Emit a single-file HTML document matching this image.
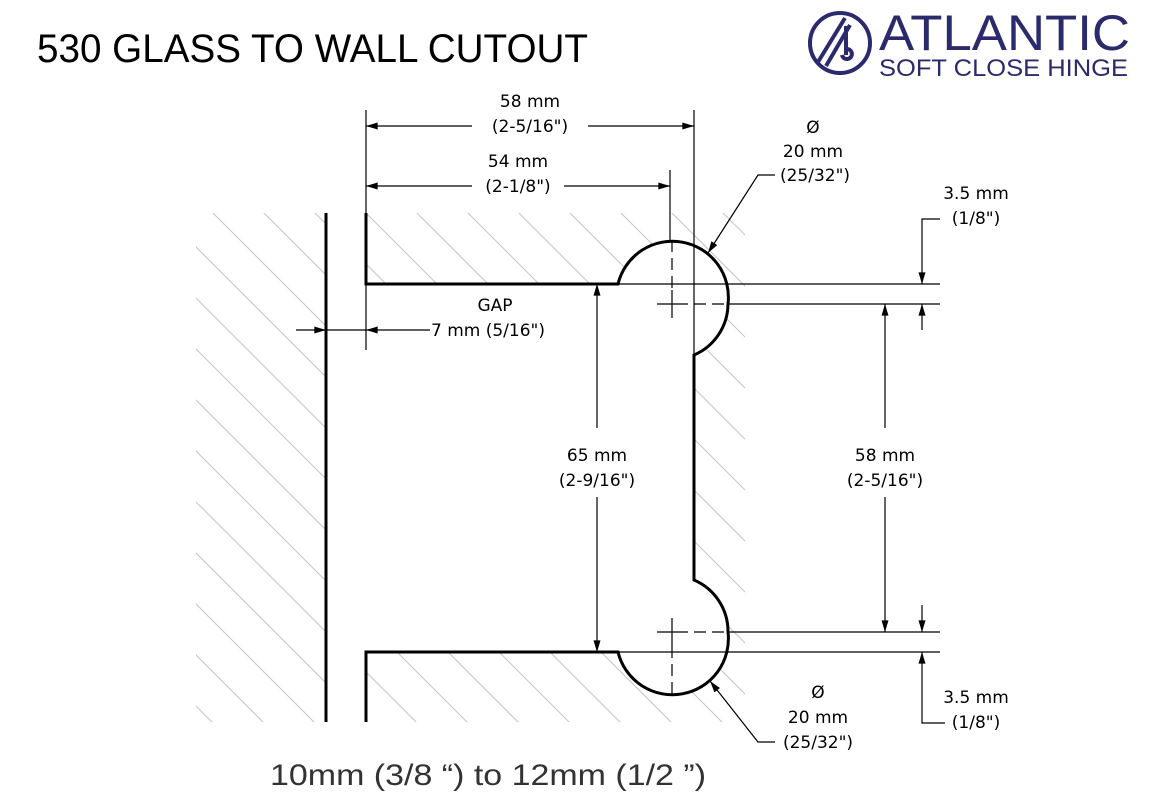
<!DOCTYPE html>
<html><head><meta charset="utf-8"><style>
html,body{margin:0;padding:0;background:#fff;}
svg{display:block;}
.t{font-family:"DejaVu Sans","Liberation Sans",sans-serif;font-size:17px;fill:#000;text-anchor:middle;}
</style></head><body>
<svg width="1149" height="805" viewBox="0 0 1149 805" xmlns="http://www.w3.org/2000/svg">
<defs>
<pattern id="h" patternUnits="userSpaceOnUse" width="51" height="51">
<line x1="-5" y1="-5" x2="56" y2="56" stroke="#c4c4c4" stroke-width="1"/>
<line x1="-56" y1="-5" x2="5" y2="56" stroke="#c4c4c4" stroke-width="1"/>
<line x1="46" y1="-5" x2="107" y2="56" stroke="#c4c4c4" stroke-width="1"/>
</pattern>
<marker id="a" viewBox="0 0 10 6" refX="10" refY="3" markerWidth="15" markerHeight="7" markerUnits="userSpaceOnUse" orient="auto-start-reverse"><path d="M0,0 L10,3 L0,6 Z" fill="#000"/></marker>
</defs>
<rect x="196" y="213" width="130" height="509" fill="url(#h)"/>
<path d="M366,213 H745 V722 H366 V652 H618 A56,56 0 0 0 728,632 A56,56 0 0 0 694,580 V355 A56,56 0 0 0 728,304 A56,56 0 0 0 618,284 H366 Z" fill="url(#h)"/>
<text x="37" y="62" font-family="Liberation Sans,sans-serif" font-size="40" textLength="551" lengthAdjust="spacingAndGlyphs" fill="#000">530 GLASS TO WALL CUTOUT</text>
<g stroke="#2b2a6c" fill="none" stroke-width="4">
<circle cx="840" cy="43" r="30"/>
<line x1="818" y1="62" x2="845" y2="18"/>
<line x1="826" y1="66" x2="850" y2="25"/>
<path d="M846,26 L846,55 M842,55 a5,5 0 1 0 5,-6"/>
</g>
<text x="879" y="50" font-family="Liberation Sans,sans-serif" font-size="50" fill="#2b2a6c" textLength="251" lengthAdjust="spacingAndGlyphs">ATLANTIC</text>
<text x="879" y="76" font-family="Liberation Sans,sans-serif" font-size="24" fill="#2b2a6c" textLength="249" lengthAdjust="spacingAndGlyphs">SOFT CLOSE HINGE</text>
<g stroke="#000" stroke-width="3" fill="none">
<line x1="326" y1="213" x2="326" y2="722"/>
<path d="M366,213 V284 H618 A56,56 0 0 1 728,304 A56,56 0 0 1 694,355 V580 A56,56 0 0 1 728,632 A56,56 0 0 1 618,652 H366 V722"/>
</g>
<g stroke="#000" stroke-width="1.2" fill="none">
<line x1="366" y1="110" x2="366" y2="213"/>
<line x1="366" y1="284" x2="366" y2="350"/>
<line x1="694" y1="110" x2="694" y2="284"/>
<line x1="694" y1="284" x2="694" y2="355"/>
<line x1="670" y1="170" x2="670" y2="240"/>
<line x1="618" y1="284" x2="940" y2="284"/>
<line x1="728" y1="304" x2="940" y2="304"/>
<line x1="728" y1="632" x2="940" y2="632"/>
<line x1="618" y1="652" x2="940" y2="652"/>
<line x1="657" y1="304" x2="688" y2="304"/>
<line x1="672" y1="290" x2="672" y2="318"/>
<line x1="657" y1="632" x2="688" y2="632"/>
<line x1="672" y1="618" x2="672" y2="646"/>
<g stroke-dasharray="12,6">
<line x1="672" y1="240" x2="672" y2="290"/>
<line x1="694" y1="304" x2="728" y2="304"/>
<line x1="694" y1="632" x2="728" y2="632"/>
<line x1="672" y1="646" x2="672" y2="700"/>
</g>
<line x1="366" y1="126" x2="472" y2="126" marker-start="url(#a)"/>
<line x1="588" y1="126" x2="694" y2="126" marker-end="url(#a)"/>
<line x1="366" y1="186" x2="472" y2="186" marker-start="url(#a)"/>
<line x1="564" y1="186" x2="670" y2="186" marker-end="url(#a)"/>
<line x1="296" y1="330" x2="326" y2="330" marker-end="url(#a)"/>
<line x1="326" y1="330" x2="366" y2="330"/>
<line x1="430" y1="330" x2="366" y2="330" marker-end="url(#a)"/>
<line x1="597" y1="428" x2="597" y2="284" marker-end="url(#a)"/>
<line x1="597" y1="497" x2="597" y2="652" marker-end="url(#a)"/>
<line x1="885" y1="428" x2="885" y2="304" marker-end="url(#a)"/>
<line x1="885" y1="497" x2="885" y2="632" marker-end="url(#a)"/>
<path d="M940,219 H922 V284" marker-end="url(#a)"/>
<line x1="922" y1="330" x2="922" y2="304" marker-end="url(#a)"/>
<line x1="922" y1="605" x2="922" y2="632" marker-end="url(#a)"/>
<path d="M945,723 H922 V652" marker-end="url(#a)"/>
<path d="M775,175 H758 L708,253" marker-end="url(#a)"/>
<path d="M775,742 H758 L710,681" marker-end="url(#a)"/>
</g>
<text class="t" x="530" y="107">58 mm</text>
<text class="t" x="530" y="132">(2-5/16")</text>
<text class="t" x="518" y="167">54 mm</text>
<text class="t" x="518" y="192">(2-1/8")</text>
<text class="t" x="495" y="311">GAP</text>
<text class="t" x="488" y="336">7 mm (5/16")</text>
<text class="t" x="597" y="461">65 mm</text>
<text class="t" x="597" y="486">(2-9/16")</text>
<text class="t" x="885" y="461">58 mm</text>
<text class="t" x="885" y="486">(2-5/16")</text>
<text class="t" x="813" y="133">Ø</text>
<text class="t" x="813" y="157">20 mm</text>
<text class="t" x="815" y="181">(25/32")</text>
<text class="t" x="976" y="199">3.5 mm</text>
<text class="t" x="976" y="224">(1/8")</text>
<text class="t" x="818" y="698">Ø</text>
<text class="t" x="818" y="723">20 mm</text>
<text class="t" x="818" y="748">(25/32")</text>
<text class="t" x="976" y="703">3.5 mm</text>
<text class="t" x="976" y="728">(1/8")</text>
<text x="270" y="785" font-family="Liberation Sans,sans-serif" font-size="30" fill="#333" textLength="436" lengthAdjust="spacingAndGlyphs">10mm (3/8 “) to 12mm (1/2 ”)</text>
</svg>
</body></html>
